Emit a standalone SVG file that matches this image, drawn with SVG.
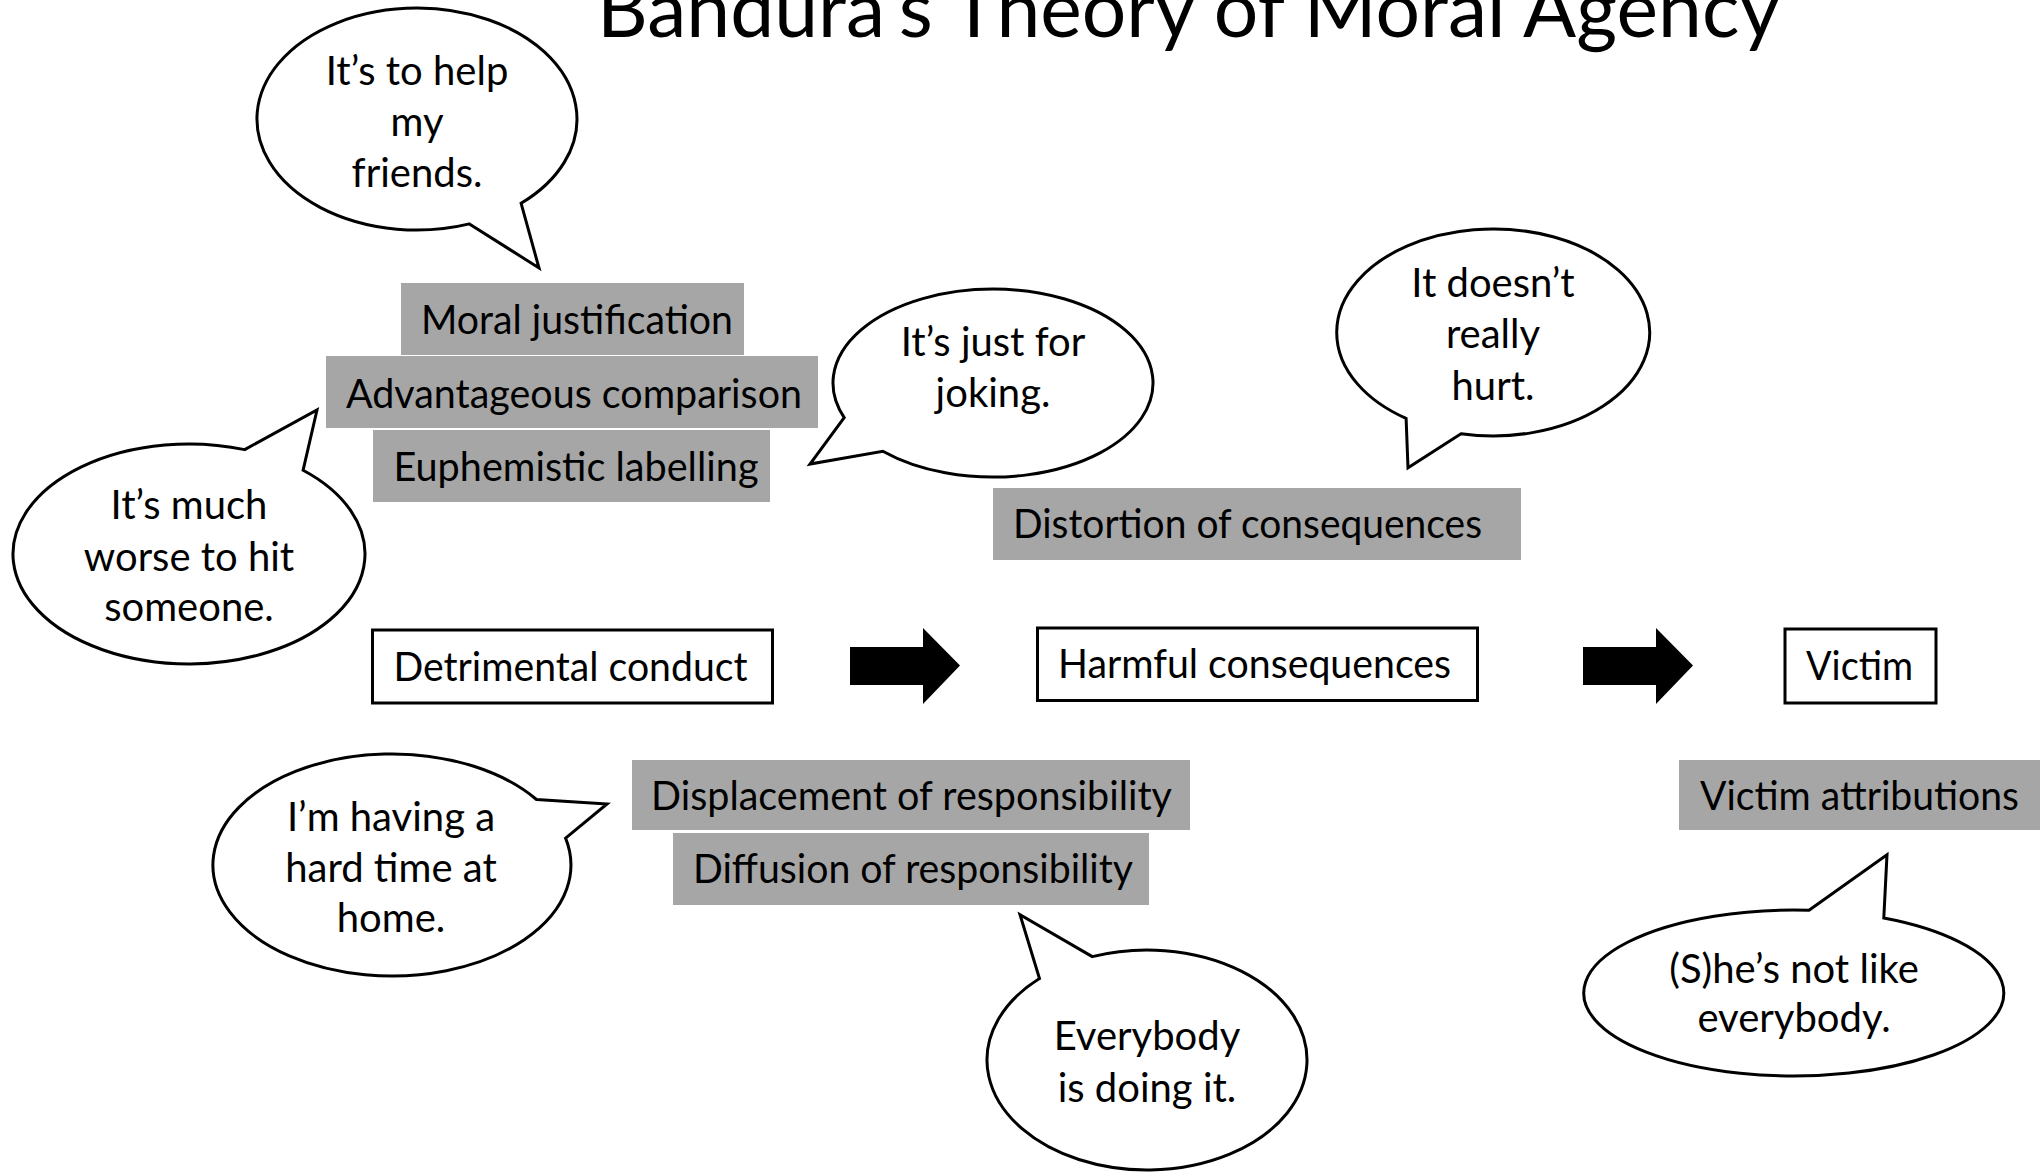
<svg xmlns="http://www.w3.org/2000/svg" width="2040" height="1172" viewBox="0 0 2040 1172">
<style>
.bg{fill:#ffffff}
.bubble{fill:#ffffff;stroke:#000000;stroke-width:3;stroke-linejoin:miter}
.box{fill:#ffffff;stroke:#000000;stroke-width:3}
.gray{fill:#a6a6a6}
.t{font-family:Lato,"Liberation Sans",sans-serif;font-size:40px;fill:#000000}
.c{text-anchor:middle}
.title{font-family:Lato,"Liberation Sans",sans-serif;font-size:80px;fill:#000000}
.arrow{fill:#000000}
</style>
<rect class="bg" x="0" y="0" width="2040" height="1172"/>
<g id="title"><text class="title" x="597" y="37" textLength="1183" lengthAdjust="spacingAndGlyphs">Bandura’s Theory of Moral Agency</text></g>

<g id="connectors">
<path class="arrow" d="M850 647 H923 V628 L960 665.5 L923 704 V685 H850 Z"/>
<path class="arrow" d="M1583 647 H1656 V628 L1693 665.5 L1656 704 V685 H1583 Z"/>
</g>

<g id="bubble-friends">
<path class="bubble" d="M469.4 223.9 L539 268 L521.1 203.3 A160 111 0 1 0 469.4 223.9 Z"/>
<text class="t c" x="417" y="85">It’s to help</text>
<text class="t c" x="417" y="136">my</text>
<text class="t c" x="417" y="187">friends.</text>
</g>

<g id="bubble-joking">
<path class="bubble" d="M844.2 417.6 L810 464 L882.8 451.2 A160 94 0 1 0 844.2 417.6 Z"/>
<text class="t c" x="993" y="356">It’s just for</text>
<text class="t c" x="993" y="407">joking.</text>
</g>

<g id="bubble-worse">
<path class="bubble" d="M244.7 449.6 L317 410 L303.1 470.2 A176 110 0 1 1 244.7 449.6 Z"/>
<text class="t c" x="189" y="519">It’s much</text>
<text class="t c" x="189" y="571">worse to hit</text>
<text class="t c" x="189" y="621">someone.</text>
</g>

<g id="bubble-hurt">
<path class="bubble" d="M1406.1 418.4 L1408 467.7 L1461 433.7 A156.5 103.5 0 1 0 1406.1 418.4 Z"/>
<text class="t c" x="1493" y="297">It doesn’t</text>
<text class="t c" x="1493" y="348">really</text>
<text class="t c" x="1493" y="400">hurt.</text>
</g>

<g id="bubble-home">
<path class="bubble" d="M536.5 799.5 L607 804 L565.6 838.1 A179 111 0 1 1 536.5 799.5 Z"/>
<text class="t c" x="391" y="831">I’m having a</text>
<text class="t c" x="391" y="882">hard time at</text>
<text class="t c" x="391" y="932">home.</text>
</g>

<g id="bubble-everybody">
<path class="bubble" d="M1092.3 956.6 L1020 914.6 L1039.5 978.5 A160 110 0 1 0 1092.3 956.6 Z"/>
<text class="t c" x="1147" y="1050">Everybody</text>
<text class="t c" x="1147" y="1102">is doing it.</text>
</g>

<g id="bubble-notlike">
<path class="bubble" d="M1809 910.2 L1887 854.7 L1883.8 918 A210 83 0 1 1 1809 910.2 Z"/>
<text class="t c" x="1794" y="983">(S)he’s not like</text>
<text class="t c" x="1794" y="1032">everybody.</text>
</g>

<g id="moral-justification">
<rect class="gray" x="401" y="283" width="343" height="72"/>
<text class="t" x="421" y="334" textLength="312" lengthAdjust="spacingAndGlyphs">Moral justification</text>
</g>
<g id="advantageous-comparison">
<rect class="gray" x="326" y="356" width="492" height="72"/>
<text class="t" x="346" y="408" textLength="456" lengthAdjust="spacingAndGlyphs">Advantageous comparison</text>
</g>
<g id="euphemistic-labelling">
<rect class="gray" x="373" y="430" width="397" height="72"/>
<text class="t" x="393.5" y="481" textLength="365" lengthAdjust="spacingAndGlyphs">Euphemistic labelling</text>
</g>
<g id="distortion-of-consequences">
<rect class="gray" x="993" y="488" width="528" height="72"/>
<text class="t" x="1013" y="538" textLength="469" lengthAdjust="spacingAndGlyphs">Distortion of consequences</text>
</g>

<g id="detrimental-conduct">
<rect class="box" x="372.5" y="630" width="400" height="73"/>
<text class="t" x="393.5" y="681" textLength="354" lengthAdjust="spacingAndGlyphs">Detrimental conduct</text>
</g>
<g id="harmful-consequences">
<rect class="box" x="1037.5" y="628" width="440" height="72.5"/>
<text class="t" x="1058" y="678" textLength="393" lengthAdjust="spacingAndGlyphs">Harmful consequences</text>
</g>
<g id="victim">
<rect class="box" x="1785" y="629" width="151" height="74"/>
<text class="t" x="1806" y="680" textLength="107" lengthAdjust="spacingAndGlyphs">Victim</text>
</g>

<g id="displacement-of-responsibility">
<rect class="gray" x="632" y="760" width="558" height="70"/>
<text class="t" x="651" y="810" textLength="521" lengthAdjust="spacingAndGlyphs">Displacement of responsibility</text>
</g>
<g id="diffusion-of-responsibility">
<rect class="gray" x="673" y="833" width="476" height="72"/>
<text class="t" x="693" y="883" textLength="440" lengthAdjust="spacingAndGlyphs">Diffusion of responsibility</text>
</g>
<g id="victim-attributions">
<rect class="gray" x="1679" y="760" width="361" height="70"/>
<text class="t" x="1700" y="810" textLength="319" lengthAdjust="spacingAndGlyphs">Victim attributions</text>
</g>
</svg>
